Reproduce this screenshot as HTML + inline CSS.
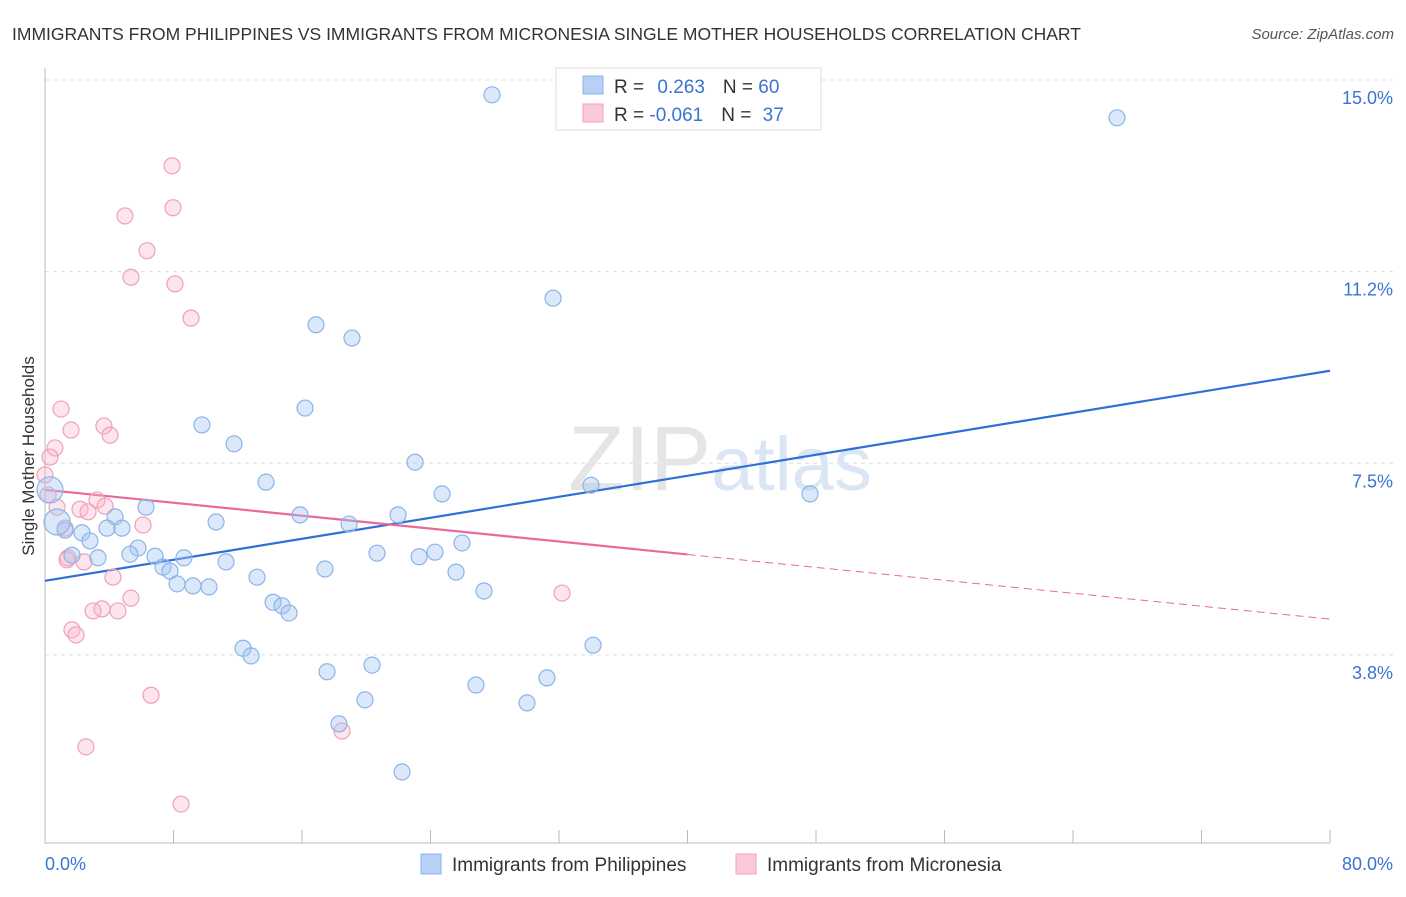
<!DOCTYPE html>
<html><head><meta charset="utf-8"><style>
body{margin:0;background:#fff;font-family:"Liberation Sans",sans-serif;}
svg text{font-family:"Liberation Sans",sans-serif;}
</style></head><body>
<svg id="chart" width="1406" height="892" xmlns="http://www.w3.org/2000/svg">
<text x="12" y="40" font-size="17.5" fill="#333">IMMIGRANTS FROM PHILIPPINES VS IMMIGRANTS FROM MICRONESIA SINGLE MOTHER HOUSEHOLDS CORRELATION CHART</text>
<text x="1394" y="39" font-size="15" fill="#555" text-anchor="end" font-style="italic">Source: ZipAtlas.com</text>
<g id="grid"></g>
<text x="720" y="490" font-size="92" text-anchor="middle" fill="#e5e5e5" font-family="Liberation Serif"><tspan>ZIP</tspan><tspan fill="#dbe6f4" font-family="Liberation Sans" font-size="76">atlas</tspan></text>
<g id="axes"></g>
<g id="lines"></g>
<g id="points"></g>
<text transform="translate(34,456) rotate(-90)" font-size="17" fill="#333" text-anchor="middle">Single Mother Households</text>
<g>
<rect x="556" y="68" width="265" height="62" fill="#fff" stroke="#ddd"/>
<rect x="583" y="76" width="20" height="18" fill="#b8d0f5" stroke="#8ab4e8"/>
<rect x="583" y="104" width="20" height="18" fill="#fbcad8" stroke="#f0a0b8"/>
<text x="614" y="93" font-size="19" fill="#333">R = <tspan fill="#3a74d0" dx="8">0.263</tspan><tspan dx="18">N = </tspan><tspan fill="#3a74d0">60</tspan></text>
<text x="614" y="121" font-size="19" fill="#333">R = <tspan fill="#3a74d0">-0.061</tspan><tspan dx="18">N = </tspan><tspan fill="#3a74d0" dx="6">37</tspan></text>
</g>
<g>
<rect x="421" y="854" width="20" height="20" fill="#b8d0f5" stroke="#8ab4e8"/>
<text x="452" y="871" font-size="19" fill="#333">Immigrants from Philippines</text>
<rect x="736" y="854" width="20" height="20" fill="#fbcad8" stroke="#f0a0b8"/>
<text x="767" y="871" font-size="19" fill="#333">Immigrants from Micronesia</text>
</g>
</svg>
<script>
const xTicks=[0,8,16,24,32,40,48,56,64,72,80];
const yGrid=[3.75,7.5,11.25,15];
const yTickLabels=["3.8%","7.5%","11.2%","15.0%"];
const xEndLabels=["0.0%","80.0%"];
const blueX=[27.83,66.74,31.63,16.87,19.11,16.19,9.77,11.77,23.04,13.76,33.99,24.72,47.63,6.29,15.88,21.98,4.36,10.65,18.93,1.25,3.86,4.79,2.30,2.80,25.96,5.79,5.29,3.30,20.67,24.28,23.29,6.85,8.65,11.27,7.35,7.78,17.43,25.59,13.20,8.22,9.21,10.21,27.33,14.20,14.76,15.19,12.33,12.83,34.12,20.36,17.56,31.25,26.83,19.92,30.01,18.30,22.23,0.75,0.31,1.68];
const blueY=[14.71,14.26,10.73,10.21,9.95,8.58,8.25,7.88,7.52,7.13,7.07,6.90,6.90,6.64,6.49,6.49,6.45,6.35,6.31,6.19,6.23,6.23,6.14,5.98,5.94,5.84,5.72,5.65,5.74,5.76,5.67,5.68,5.65,5.57,5.47,5.39,5.43,5.37,5.27,5.14,5.10,5.08,5.00,4.78,4.71,4.57,3.88,3.73,3.94,3.55,3.42,3.30,3.16,2.87,2.81,2.40,1.46,6.35,6.98,5.70];
const blueBig=[57,58];
const pinkX=[7.91,7.97,4.98,6.35,5.35,8.09,9.09,1.00,3.67,1.62,4.05,0.62,0.31,0.19,3.24,0.75,2.18,3.74,2.68,6.10,1.25,1.43,2.43,4.23,5.35,3.55,2.99,4.54,1.68,1.93,32.19,6.60,2.55,18.49,8.47,1.37,0];
const pinkY=[13.32,12.50,12.34,11.66,11.14,11.01,10.34,8.56,8.23,8.15,8.05,7.80,7.62,6.88,6.78,6.64,6.60,6.66,6.55,6.29,6.23,5.65,5.57,5.27,4.86,4.65,4.61,4.61,4.24,4.14,4.96,2.96,1.95,2.26,0.83,5.61,7.27];
const blueTrend=[5.20,9.31];
const pinkTrend=[6.98,4.45];
const pinkSolidEnd=40;

const NS="http://www.w3.org/2000/svg";
const X=v=>45+v/80*1285;
const Y=v=>80+(15-v)*51.1;
function mk(tag,attrs,parent){const e=document.createElementNS(NS,tag);for(const k in attrs)e.setAttribute(k,attrs[k]);parent.appendChild(e);return e;}
const grid=document.getElementById('grid'),axes=document.getElementById('axes'),lines=document.getElementById('lines'),pts=document.getElementById('points');
yGrid.forEach((v,i)=>{
 const l=mk('line',{x1:45,x2:1394,y1:Y(v),y2:Y(v),stroke:'#ddd','stroke-dasharray':'4,4'},grid);
 
 
 const t=mk('text',{x:1393,y:Y(v)+24,'font-size':18,fill:'#3a74d0','text-anchor':'end'},axes);
 t.textContent=yTickLabels[i];
 
 
});
const ax=mk('line',{x1:45,x2:1330,y1:843,y2:843,stroke:'#bbb'},axes);


const ay=mk('line',{x1:45,x2:45,y1:68,y2:843,stroke:'#bbb'},axes);


xTicks.forEach(v=>{
 const t=mk('line',{x1:X(v),x2:X(v),y1:830,y2:843,stroke:'#bbb'},axes);
 
 
});
[[0,'start',45],[80,'end',1393]].forEach((a,i)=>{
 const t=mk('text',{x:a[2],y:870,'font-size':18,fill:'#3a74d0','text-anchor':a[1]},axes);
 t.textContent=xEndLabels[i];
 
 
});
function dot(x,y,r,fill,stroke,name){
 const c=mk('circle',{cx:X(x),cy:Y(y),r:r,fill:fill,stroke:stroke,'stroke-width':1.2},pts);
 
 
}
pinkX.forEach((x,i)=>dot(x,pinkY[i],8,'rgba(248,180,200,0.35)','#f0a0b8','micronesia-point'));
blueX.forEach((x,i)=>dot(x,blueY[i],blueBig.includes(i)?13:8,'rgba(165,198,242,0.4)','#8ab4e8','philippines-point'));
const bl=mk('line',{x1:X(0),y1:Y(blueTrend[0]),x2:X(80),y2:Y(blueTrend[1]),stroke:'#2f6fd6','stroke-width':2.2},lines);


const pm=pinkTrend[0]+(pinkTrend[1]-pinkTrend[0])*pinkSolidEnd/80;
const pl=mk('line',{x1:X(0),y1:Y(pinkTrend[0]),x2:X(pinkSolidEnd),y2:Y(pm),stroke:'#e8699a','stroke-width':2.2},lines);


const pd=mk('line',{x1:X(pinkSolidEnd),y1:Y(pm),x2:X(80),y2:Y(pinkTrend[1]),stroke:'#e8699a','stroke-width':1,'stroke-dasharray':'8,5'},lines);


</script>
</body></html>
